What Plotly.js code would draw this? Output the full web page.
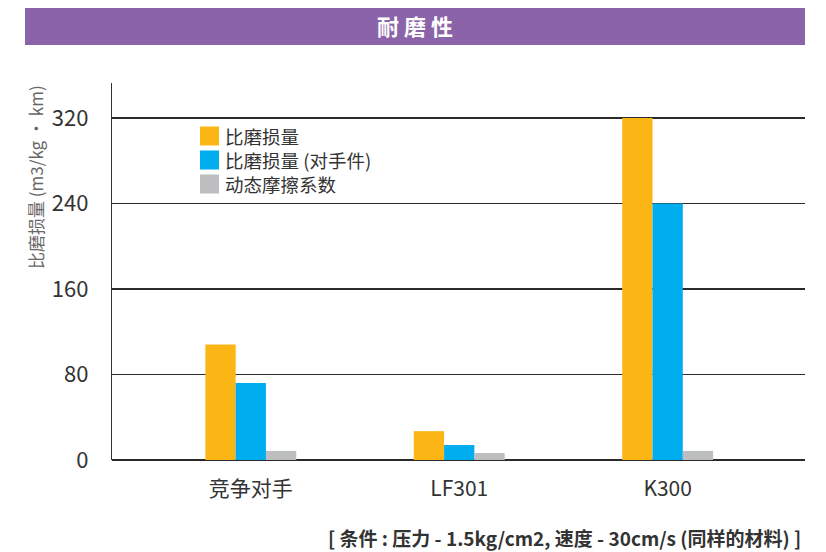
<!DOCTYPE html>
<html>
<head>
<meta charset="utf-8">
<script src="https://cdn.plot.ly/plotly-3.0.1.min.js"></script>
<style>html,body{margin:0;padding:0;background:#fff;}#chart{width:826px;height:552px;}</style>
</head>
<body>
<div id="chart"></div>
<script>
const categories = ['竞争对手', 'LF301', 'K300'];
const seriesNames = ['比磨损量', '比磨损量 (对手件)', '动态摩擦系数'];
const wearRate = [108, 27, 320];
const wearRateCounter = [72, 14, 240];
const frictionCoef = [8.5, 6.5, 8.5];
const yTicks = [0, 80, 160, 240, 320];
const colors = ['#FBB615', '#00AEEF', '#BCBEC0'];

const FONT = '"Noto Sans CJK SC", "Noto Sans", sans-serif';
const seriesValues = [wearRate, wearRateCounter, frictionCoef];

const traces = seriesValues.map((vals, i) => ({
  type: 'bar',
  x: categories,
  y: vals,
  name: seriesNames[i],
  marker: {color: colors[i]},
  showlegend: false,
  hoverinfo: 'skip'
}));

// plot area in pixels: x 112..805, y 83..460
const L = 112, R = 805, T = 83, B = 460;
const W = R - L, H = B - T;
const px = x => (x - L) / W;
const py = y => (B - y) / H;

const shapes = [
  {type: 'rect', xref: 'paper', yref: 'paper', x0: px(25), x1: px(805), y0: py(45), y1: py(8),
   fillcolor: '#8A63A8', line: {width: 0}, layer: 'below'}
];
const annotations = [
  {xref: 'paper', yref: 'paper', x: px(35), y: py(177), text: '比磨损量 (m3/kg • km)', textangle: -90,
   showarrow: false, xanchor: 'center', yanchor: 'middle', font: {family: FONT, size: 17, color: '#666'}},
  {xref: 'paper', yref: 'paper', x: px(803), y: py(537), text: '<b>[ 条件 : 压力 - 1.5kg/cm2, 速度 - 30cm/s (同样的材料) ]</b>',
   showarrow: false, xanchor: 'right', yanchor: 'middle', font: {family: FONT, size: 19, color: '#333'}}
];
const legendY = [136, 160, 184];
seriesNames.forEach((n, i) => {
  shapes.push({type: 'rect', xref: 'paper', yref: 'paper', x0: px(200), x1: px(219),
    y0: py(legendY[i] + 9.5), y1: py(legendY[i] - 9.5), fillcolor: colors[i], line: {width: 0}});
});
annotations.push({xref: 'paper', yref: 'paper', x: px(223), y: py(legendY[1]), text: seriesNames.join('<br>'),
  showarrow: false, align: 'left', xanchor: 'left', yanchor: 'middle',
  font: {family: FONT, size: 18.5, color: '#333'}});

const layout = {
  width: 826, height: 552,
  margin: {l: L, r: 826 - R, t: T, b: 552 - B, pad: 0},
  paper_bgcolor: '#fff', plot_bgcolor: '#fff',
  title: {text: '<b>耐 磨 性</b>', x: 415 / 826, xref: 'container', xanchor: 'center', y: 1 - 27 / 552, yref: 'container', yanchor: 'middle',
    font: {family: FONT, size: 22, color: '#fff'}},
  barmode: 'group', bargap: 0.564, bargroupgap: 0,
  showlegend: false,
  xaxis: {type: 'category', categoryarray: categories, range: [-0.666, 2.659], showgrid: false, showline: false,
    zeroline: false, ticks: '', ticklabelstandoff: 14, tickfont: {family: FONT, size: 21, color: '#333'}, fixedrange: true},
  yaxis: {range: [0, 352.7], tickvals: yTicks, ticktext: yTicks.map(String), showgrid: true, gridcolor: '#2a2a2a', gridwidth: 1.4,
    zeroline: true, zerolinecolor: '#2a2a2a', zerolinewidth: 1.6, showline: true, linecolor: '#333', linewidth: 1.2,
    ticks: '', ticklabelstandoff: 18, tickfont: {family: FONT, size: 22, color: '#333'}, fixedrange: true},
  shapes: shapes,
  annotations: annotations
};

Plotly.newPlot('chart', traces, layout, {displayModeBar: false, staticPlot: true});
</script>
</body>
</html>
